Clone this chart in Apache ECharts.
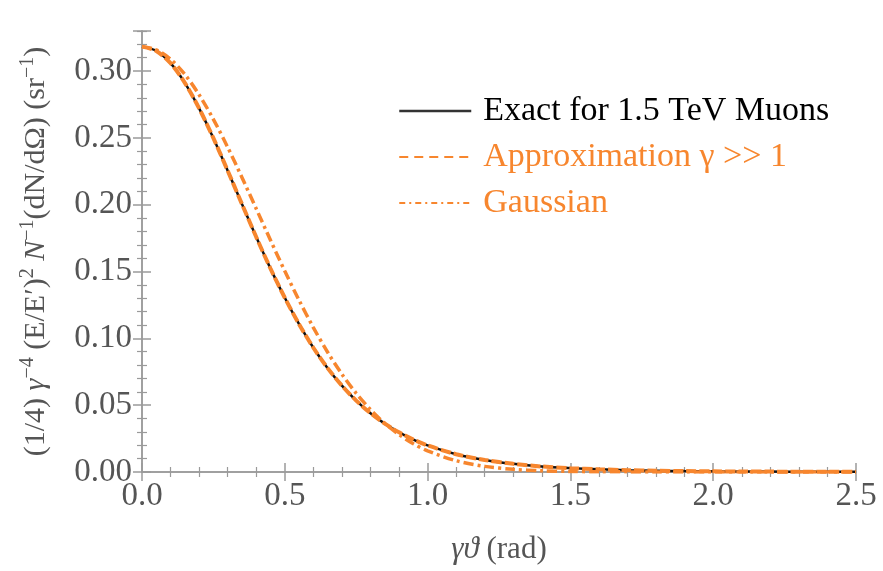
<!DOCTYPE html>
<html>
<head>
<meta charset="utf-8">
<script src="https://cdn.jsdelivr.net/npm/echarts@6/dist/echarts.min.js"></script>
<style>
html,body{margin:0;padding:0;background:#fff;}
#chart{width:883px;height:571px;}
</style>
</head>
<body>
<div id="chart"></div>
<script>
// gamma*theta (rad)
const xValues = [0, 0.05, 0.1, 0.15, 0.2, 0.25, 0.3, 0.35, 0.4, 0.45, 0.5, 0.55, 0.6, 0.65, 0.7, 0.75, 0.8, 0.85, 0.9, 0.95, 1.0,
  1.1, 1.2, 1.3, 1.4, 1.5, 1.6, 1.7, 1.8, 1.9, 2.0, 2.1, 2.2, 2.3, 2.4, 2.5];
// Exact for 1.5 TeV Muons
const exactValues = [0.3183, 0.3151, 0.3059, 0.2912, 0.2721, 0.2498, 0.2255, 0.2005, 0.1758, 0.1522, 0.1304, 0.1106, 0.0930, 0.0777, 0.0646, 0.0534, 0.0440, 0.0362, 0.0297, 0.0243, 0.0199,
  0.0133, 0.0090, 0.0061, 0.0041, 0.0029, 0.0020, 0.0014, 0.0010, 0.0007, 0.0005, 0.0004, 0.0003, 0.0002, 0.00015, 0.00012];
// Approximation gamma >> 1
const approxValues = [0.3183, 0.3151, 0.3059, 0.2912, 0.2721, 0.2498, 0.2255, 0.2005, 0.1758, 0.1522, 0.1304, 0.1106, 0.0930, 0.0777, 0.0646, 0.0534, 0.0440, 0.0362, 0.0297, 0.0243, 0.0199,
  0.0133, 0.0090, 0.0061, 0.0041, 0.0029, 0.0020, 0.0014, 0.0010, 0.0007, 0.0005, 0.0004, 0.0003, 0.0002, 0.00015, 0.00012];
// Gaussian
const gaussValues = [0.3183, 0.3159, 0.3089, 0.2975, 0.2823, 0.2639, 0.2430, 0.2204, 0.1970, 0.1734, 0.1504, 0.1285, 0.1081, 0.0896, 0.0732, 0.0589, 0.0467, 0.0364, 0.0280, 0.0212, 0.0158,
  0.0084, 0.0042, 0.0020, 0.0009, 0.0004, 0.0002, 0.0001, 0, 0, 0, 0, 0, 0, 0, 0];

const seriesNames = ['Exact for 1.5 TeV Muons', 'Approximation \u03b3 >> 1', 'Gaussian'];
const xTickValues = [0, 0.5, 1.0, 1.5, 2.0, 2.5];
const yTickValues = [0, 0.05, 0.10, 0.15, 0.20, 0.25, 0.30];

const ORANGE = '#f7862e';
const AXIS = '#9a9a9a';
const LABEL = '#555555';
const FONT = '"Liberation Serif", "Times New Roman", serif';

function pairs(ys){ return xValues.map((x,i)=>[x, ys[i]]); }

const chart = echarts.init(document.getElementById('chart'), null, {renderer:'canvas'});

const axisBase = {
  axisLine:{show:true, lineStyle:{color:AXIS, width:1.5}},
  axisTick:{show:true, inside:true, length:9, lineStyle:{color:AXIS, width:1.5}},
  minorTick:{show:true, splitNumber:5, length:5, lineStyle:{color:AXIS, width:1.2}},
  splitLine:{show:false},
  minorSplitLine:{show:false}
};

const option = {
  animation:false,
  backgroundColor:'#fff',
  grid:{left:142, right:27, top:31, bottom:99, containLabel:false},
  legend:{
    orient:'vertical',
    left:398, top:90,
    itemWidth:72, itemHeight:14, itemGap:4,
    padding:0,
    textStyle:{fontFamily:FONT, fontSize:34, lineHeight:42, padding:[0,0,0,7]},
    data:[
      {name:seriesNames[0], textStyle:{color:'#000'}, itemStyle:{opacity:0}, lineStyle:{color:'#333', width:2.5, type:'solid'}},
      {name:seriesNames[1], textStyle:{color:ORANGE}, itemStyle:{opacity:0}, lineStyle:{color:ORANGE, width:2, type:[9,6]}},
      {name:seriesNames[2], textStyle:{color:ORANGE}, itemStyle:{opacity:0}, lineStyle:{color:ORANGE, width:2, type:[6,4,2,4]}}
    ]
  },
  xAxis:[
    Object.assign({}, axisBase, {
      type:'value', min:0, max:2.5, interval:0.5, position:'bottom',
      axisLabel:{color:LABEL, fontFamily:FONT, fontSize:33, margin:8,
        formatter:v=>xTickValues.some(t=>Math.abs(t-v)<1e-9)?v.toFixed(1):''},
      name:'{i|\u03b3\u03d1} (rad)',
      nameLocation:'middle', nameGap:62,
      nameTextStyle:{color:LABEL, fontFamily:FONT, fontSize:31,
        rich:{i:{fontStyle:'italic', fontFamily:FONT, fontSize:31, color:LABEL}}}
    }),
    Object.assign({}, axisBase, {
      type:'value', min:0, max:2.5, interval:0.5, position:'top',
      axisLabel:{show:false}
    })
  ],
  yAxis:[
    Object.assign({}, axisBase, {
      type:'value', min:0, max:0.33, interval:0.05, position:'left',
      axisLabel:{color:LABEL, fontFamily:FONT, fontSize:33, margin:10, showMaxLabel:false,
        formatter:v=>yTickValues.some(t=>Math.abs(t-v)<1e-9)?v.toFixed(2):''},
      name:'(1/4) {i|\u03b3}{s|\u22124} (E/E\u2032){s|2} {i|N}{s|\u22121}(dN/d\u03a9) (sr{s|\u22121})',
      nameLocation:'middle', nameRotate:90, nameGap:106,
      nameTextStyle:{color:LABEL, fontFamily:FONT, fontSize:30, lineHeight:36, verticalAlign:'middle',
        rich:{
          i:{fontStyle:'italic', fontFamily:FONT, fontSize:30, color:LABEL, lineHeight:36},
          s:{fontFamily:FONT, fontSize:20, color:LABEL, lineHeight:36, verticalAlign:'top', padding:[0,0,14,0]}
        }}
    }),
    Object.assign({}, axisBase, {
      type:'value', min:0, max:0.33, interval:0.05, position:'right',
      axisLabel:{show:false}
    })
  ],
  series:[
    {name:seriesNames[0], type:'line', data:pairs(exactValues), symbol:'none', smooth:0.3,
      lineStyle:{color:'#111', width:2.5}, itemStyle:{color:'#111'}, z:2},
    {name:seriesNames[1], type:'line', data:pairs(approxValues), symbol:'none', smooth:0.3,
      lineStyle:{color:ORANGE, width:4, type:[10,3]}, itemStyle:{color:ORANGE}, z:3},
    {name:seriesNames[2], type:'line', data:pairs(gaussValues), symbol:'none', smooth:0.3,
      lineStyle:{color:ORANGE, width:3.5, type:[10,4,3,4]}, itemStyle:{color:ORANGE}, z:4}
  ]
};
chart.setOption(option);
</script>
</body>
</html>
